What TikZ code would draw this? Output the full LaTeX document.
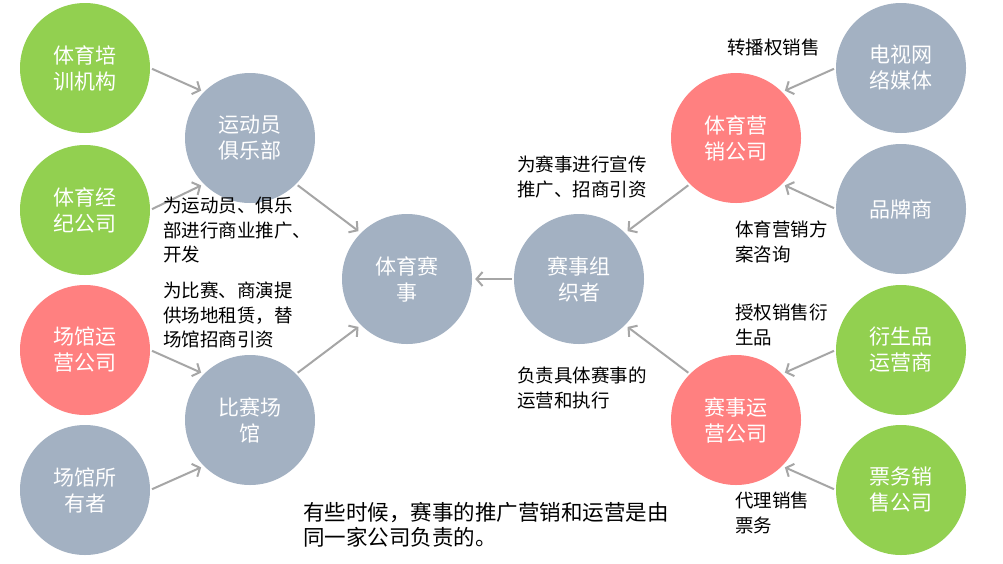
\documentclass[tikz,border=0pt]{standalone}
\usepackage{fontspec}
\setmainfont{Noto Sans CJK SC}
\usetikzlibrary{arrows.meta}
\definecolor{cgreen}{HTML}{92D050}
\definecolor{cred}{HTML}{FF8080}
\definecolor{cgrey}{HTML}{A3B1C2}
\definecolor{carrow}{HTML}{A6A6A6}
\begin{document}
\begin{tikzpicture}[x=1pt,y=-1pt,
  ball/.style={circle, minimum size=130pt, inner sep=0pt, text=white, align=center,
    font=\fontsize{21}{26}\selectfont},
  gball/.style={ball, fill=cgreen},
  rball/.style={ball, fill=cred},
  bball/.style={ball, fill=cgrey},
  arr/.style={draw=carrow, line width=2pt, shorten <=2pt, shorten >=3pt,
    -{Straight Barb[length=6pt,width=14pt]}},
  note/.style={align=left, anchor=north west, inner sep=0pt,
    font=\fontsize{18.5}{24.5}\selectfont}
]
\fill[white] (0,0) rectangle (1003,563);
\useasboundingbox (0,0) rectangle (1003,563);

% left column
\node[gball] (tr) at (85,68) {体育培\\训机构};
\node[gball] (ag) at (85,210) {体育经\\纪公司};
\node[rball] (vo) at (85,350) {场馆运\\营公司};
\node[bball] (ow) at (85,490) {场馆所\\有者};
% middle left
\node[bball] (cl) at (250,138) {运动员\\俱乐部};
\node[bball] (ve) at (250,420) {比赛场\\馆};
% center
\node[bball] (ev) at (407,279) {体育赛\\事};
\node[bball] (or) at (579,279) {赛事组\\织者};
% right
\node[rball] (mk) at (736,138) {体育营\\销公司};
\node[rball] (eo) at (736,420) {赛事运\\营公司};
\node[bball] (tv) at (901,68) {电视网\\络媒体};
\node[bball] (br) at (901,209) {品牌商};
\node[gball] (de) at (901,350) {衍生品\\运营商};
\node[gball] (ti) at (901,490) {票务销\\售公司};

% arrows
\draw[arr] (tr.east) -- (cl.135);
\draw[arr] (ag.east) -- (cl.225);
\draw[arr] (vo.east) -- (ve.135);
\draw[arr] (ow.east) -- (ve.225);
\draw[arr] (cl.-45) -- (ev.135);
\draw[arr] (ve.45) -- (ev.225);
\draw[arr] (or.west) -- (ev.east);
\draw[arr] (mk.225) -- (or.45);
\draw[arr] (eo.135) -- (or.-45);
\draw[arr] (tv.west) -- (mk.45);
\draw[arr] (br.west) -- (mk.-45);
\draw[arr] (de.west) -- (eo.45);
\draw[arr] (ti.west) -- (eo.-45);

% notes
\node[note] (n1) at (163,197) {为运动员、俱乐\\部进行商业推广、\\开发};
\node[note] (n2) at (163,282) {为比赛、商演提\\供场地租赁，替\\场馆招商引资};
\node[note] (n3) at (517,156) {为赛事进行宣传\\推广、招商引资};
\node[note] (n4) at (517,367) {负责具体赛事的\\运营和执行};
\node[note] (n5) at (727,39) {转播权销售};
\node[note] (n6) at (735,221) {体育营销方\\案咨询};
\node[note] (n7) at (735,304) {授权销售衍\\生品};
\node[note] (n8) at (735,492) {代理销售\\票务};
\node[note, font=\fontsize{21.5}{25}\selectfont] (n9) at (303,502) {有些时候，赛事的推广营销和运营是由\\同一家公司负责的。};
\end{tikzpicture}
\end{document}
